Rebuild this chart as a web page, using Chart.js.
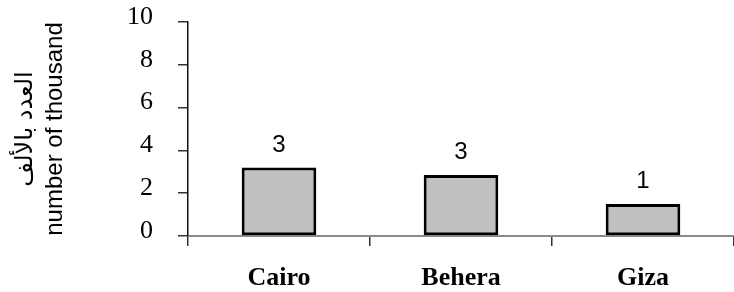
<!DOCTYPE html>
<html>
<head>
<meta charset="utf-8">
<script src="https://cdn.jsdelivr.net/npm/chart.js@4"></script>
<style>
  html, body { margin: 0; padding: 0; background: #fff; overflow: hidden; }
  #wrap { width: 734px; height: 292px; position: relative; }
</style>
</head>
<body>
<div id="wrap"><canvas id="chart"></canvas></div>
<script>
// 데이터
const categories = ['Cairo', 'Behera', 'Giza'];
const values = [3.2, 2.85, 1.49];
const yTicks = [0, 2, 4, 6, 8, 10];
const yTitle = ['العدد بالألف', 'number of thousand'];

// 막대 위에 값 표시 (반올림)
const valueLabels = {
    id: 'valueLabels',
    afterDatasetsDraw(chart) {
        const ctx = chart.ctx;
        const meta = chart.getDatasetMeta(0);
        ctx.save();
        ctx.font = '24px "Liberation Sans", Arial, sans-serif';
        ctx.fillStyle = '#000';
        ctx.textAlign = 'center';
        ctx.textBaseline = 'alphabetic';
        meta.data.forEach((bar, i) => {
            ctx.fillText(String(Math.round(values[i])), bar.x, bar.y - 16);
        });
        ctx.restore();
    }
};

new Chart(document.getElementById('chart'), {
    type: 'bar',
    data: {
        labels: categories,
        datasets: [{
            data: values,
            backgroundColor: '#c0c0c0',
            borderColor: '#000',
            borderWidth: 3,
            borderSkipped: false,
            categoryPercentage: 1,
            barPercentage: 0.41
        }]
    },
    options: {
        responsive: true,
        maintainAspectRatio: false,
        animation: false,
        layout: { padding: { top: 22, right: 0, bottom: 0, left: 0 } },
        plugins: { legend: { display: false }, tooltip: { enabled: false } },
        scales: {
            x: {
                offset: true,
                afterFit(scale) {
                    scale.height = 56;
                    scale.paddingBottom = 0;
                },
                grid: { drawOnChartArea: false, drawTicks: true, tickLength: 10, color: '#333', lineWidth: 1.5 },
                border: { display: true, color: '#8a8a8a', width: 2 },
                ticks: {
                    color: '#000',
                    padding: 17,
                    font: { family: '"Liberation Serif", "Times New Roman", serif', size: 26, weight: 'bold' }
                }
            },
            y: {
                min: 0,
                max: 10,
                afterBuildTicks(scale) {
                    scale.ticks = yTicks.map(v => ({ value: v }));
                },
                afterFit(scale) {
                    scale.width = 188;
                    scale.paddingTop = 0;
                    scale.paddingBottom = 0;
                },
                grid: { drawOnChartArea: false, drawTicks: true, tickLength: 10, color: '#333', lineWidth: 1.5 },
                border: { display: true, color: '#111', width: 1.5 },
                ticks: {
                    color: '#000',
                    padding: 25,
                    labelOffset: -5,
                    font: { family: '"Liberation Serif", "Times New Roman", serif', size: 26 }
                },
                title: {
                    display: true,
                    text: yTitle,
                    color: '#000',
                    padding: { top: 10, bottom: 0 },
                    font: { family: '"Liberation Sans", Arial, "DejaVu Sans", sans-serif', size: 24, lineHeight: '30px' }
                }
            }
        }
    },
    plugins: [valueLabels]
});
</script>
</body>
</html>
